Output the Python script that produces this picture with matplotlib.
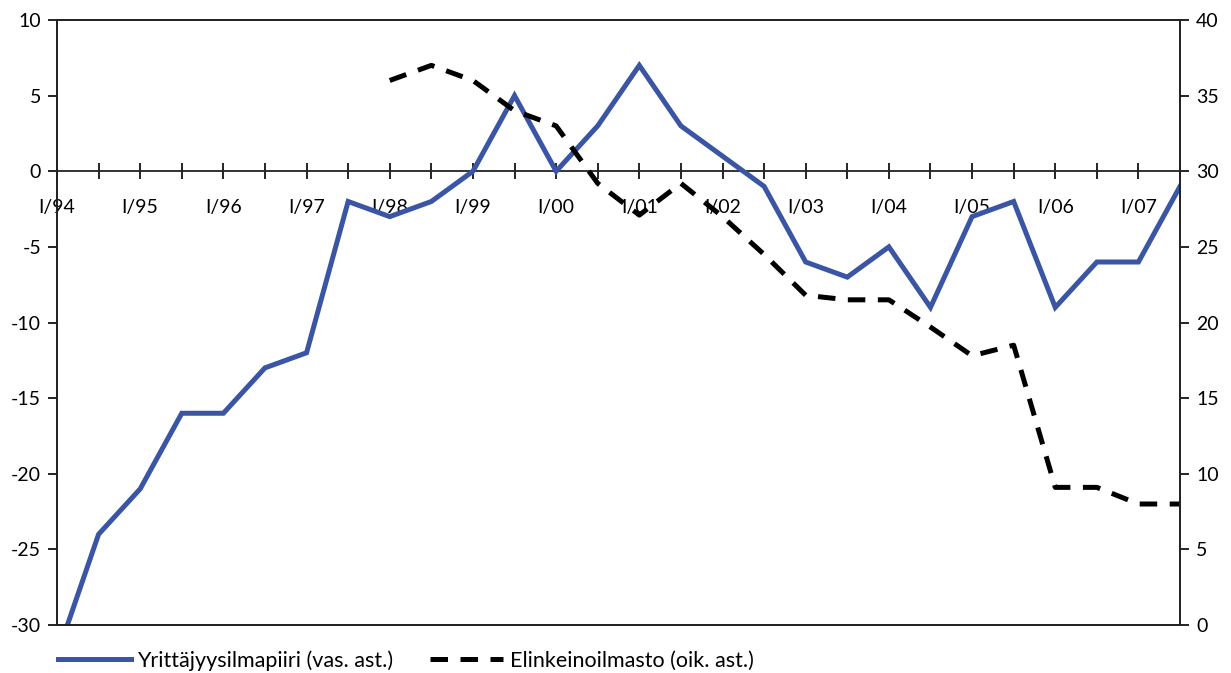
import numpy as np
import matplotlib
matplotlib.use('Agg')
import matplotlib.pyplot as plt

# half-year periods, I/94 ... II/07
years = ['94', '95', '96', '97', '98', '99', '00', '01', '02', '03', '04', '05', '06', '07']
periods = []
for y in years:
    periods.append('I/' + y)
    periods.append('II/' + y)
tick_labels = [p if p.startswith('I/') else '' for p in periods]

# Yrittäjyysilmapiiri, left axis
yritt = [-32, -24, -21, -16, -16, -13, -12, -2, -3, -2, 0, 5, 0, 3,
         7, 3, 1, -1, -6, -7, -5, -9, -3, -2, -9, -6, -6, -1]
# Elinkeinoilmasto, right axis (starts I/98)
elink = [np.nan] * 8 + [36, 37, 36, 34, 33, 29.2, 27.1, 29.2, 27, 24.5,
                        21.8, 21.5, 21.5, 19.7, 17.8, 18.5, 9.1, 9.1, 8.0, 8.0]

blue = '#3a55a4'
plt.rcParams['font.family'] = ['Lato', 'DejaVu Sans']
plt.rcParams['font.size'] = 14
plt.rcParams['axes.unicode_minus'] = False

fig = plt.figure(figsize=(12.31, 6.73), dpi=100)
ax = fig.add_axes([0.0463, 0.0713, 0.9123, 0.899])
x = np.arange(len(periods))

l1, = ax.plot(x, yritt, color=blue, lw=3.6, solid_joinstyle='miter',
              label='Yrittäjyysilmapiiri (vas. ast.)')
ax.set_xlim(0, len(periods) - 1)
ax.set_ylim(-30, 10)
ax.set_yticks(np.arange(-30, 11, 5))
ax.tick_params(axis='y', direction='out', length=6.5, width=1.2, pad=5)
ax.set_xticks([])
for s in ax.spines.values():
    s.set_linewidth(1.3)
    s.set_color('#222222')

ax2 = ax.twinx()
l2, = ax2.plot(x, elink, color='black', lw=3.6, dashes=(3.5, 2.5),
               label='Elinkeinoilmasto (oik. ast.)')
ax2.set_ylim(0, 40)
ax2.set_yticks(np.arange(0, 41, 5))
ax2.tick_params(axis='y', direction='out', length=6.5, width=1.2, pad=5)
for s in ax2.spines.values():
    s.set_linewidth(1.3)
    s.set_color('#222222')

# x axis through zero of left scale
secax = ax.secondary_xaxis(0.75)
secax.set_alignment('bottom')
secax.set_xticks(x)
secax.set_xticklabels(tick_labels)
secax.tick_params(axis='x', direction='inout', length=11.5, width=1.2, pad=14)
secax.spines['bottom'].set_linewidth(1.3)
secax.spines['bottom'].set_color('#222222')

fig.legend(handles=[l1, l2], loc='center left', bbox_to_anchor=(0.040, 0.019),
           ncol=2, frameon=False, handlelength=3.4, handletextpad=0.3,
           columnspacing=1.7, borderaxespad=0, fontsize=15.5)

fig.savefig('out.png', dpi=100)
